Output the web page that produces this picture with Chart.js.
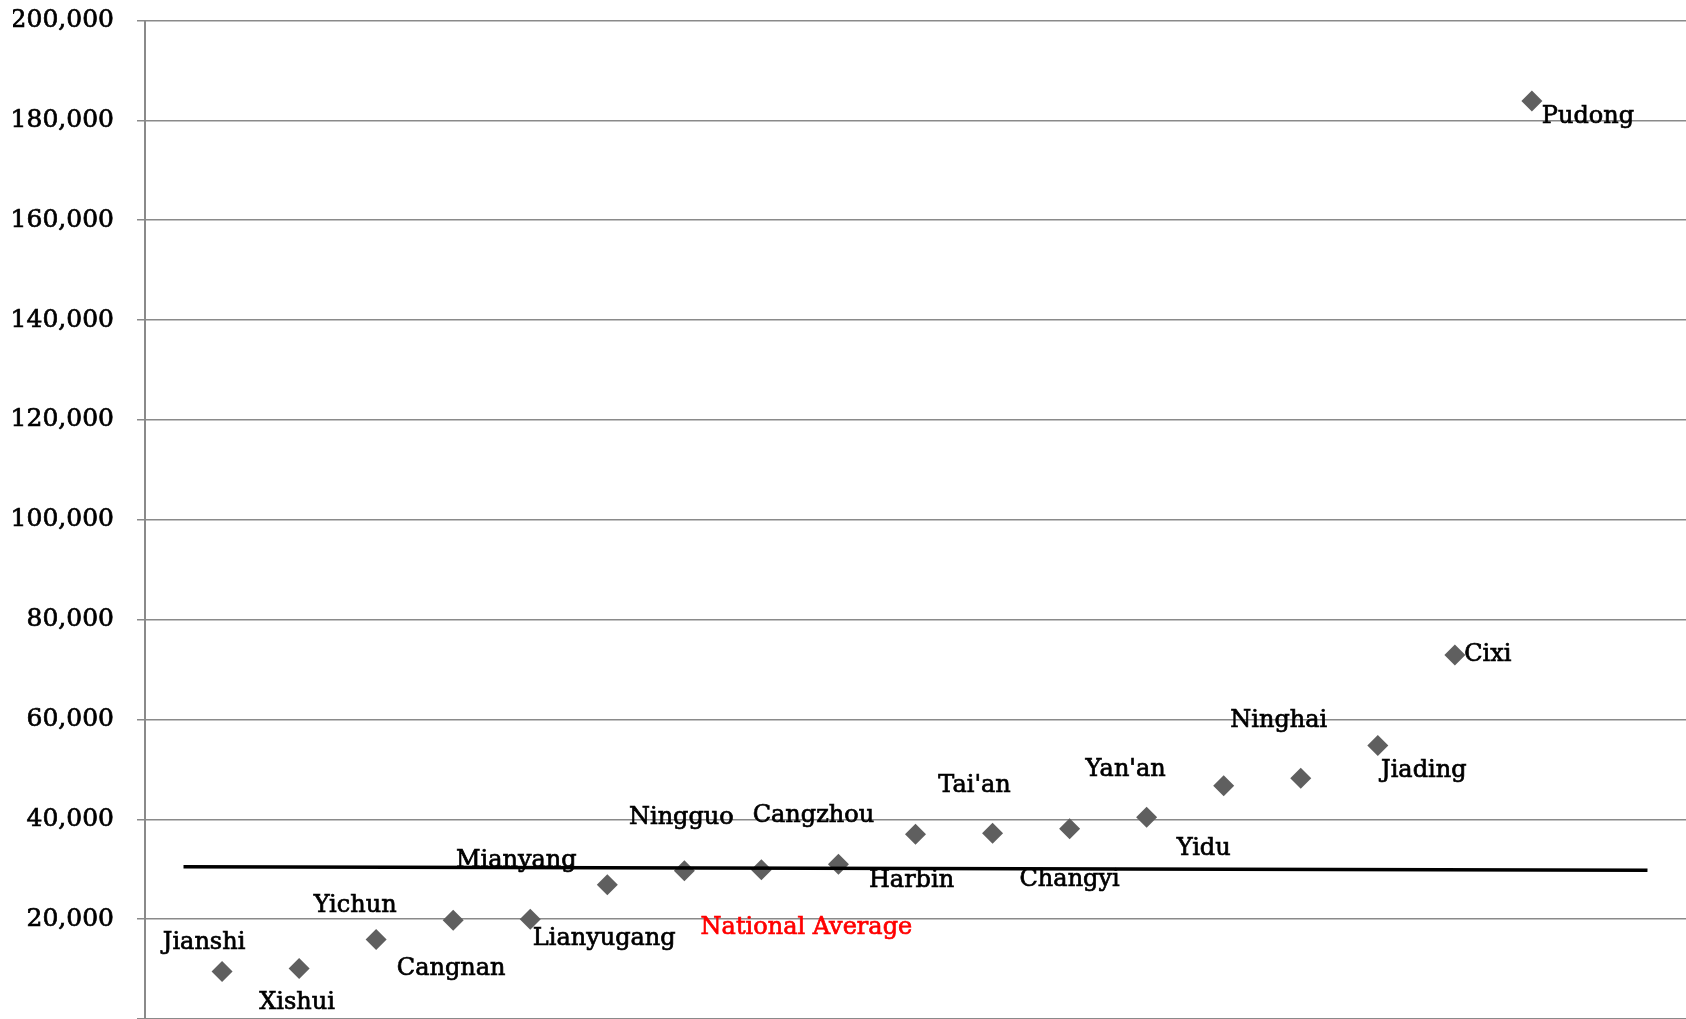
<!DOCTYPE html>
<html>
<head>
<meta charset="utf-8">
<script src="https://cdn.jsdelivr.net/npm/chart.js@4.4.0/dist/chart.umd.min.js"></script>
<style>
  html, body { margin: 0; padding: 0; background: #fff; overflow: hidden; }
  #wrap { position: absolute; left: 0; top: 0; width: 1686px; height: 1019px; }
</style>
</head>
<body>
<div id="wrap"><canvas id="myChart"></canvas></div>
<script>
// cities, sorted by value
let cities = ['Jianshi', 'Xishui', 'Yichun', 'Cangnan', 'Lianyugang', 'Mianyang', 'Ningguo',
  'National Average', 'Cangzhou', 'Harbin', "Tai'an", 'Changyi', "Yan'an", 'Yidu', 'Ninghai',
  'Jiading', 'Cixi', 'Pudong']
let values = [9500, 10100, 15900, 19800, 20000, 26900, 29700,
  29900, 31000, 37000, 37200, 38100, 40400, 46700, 48200,
  54800, 72900, 183900]
// the black national average line (start / end)
let avgLineX = [0.5, 19.5]
let avgLineY = [30500, 29800]
let yTicks = [0, 20000, 40000, 60000, 80000, 100000, 120000, 140000, 160000, 180000, 200000]

// where each label sits relative to its marker (px)
const labelOffsets = [
  [-18, -29], [-2, 34], [-21, -34], [-2, 49], [74, 20], [-91, -24], [-3, -53],
  [45, 58], [-25, -48], [-4, 46], [-18, -48], [0, 51], [-21, -48], [-20, 63], [-22, -58],
  [46, 25], [33, 0], [56, 16],
]

const serif = '"DejaVu Serif", "Liberation Serif", serif'

let points = cities.map((c, i) => ({ x: i + 1, y: values[i] }))
let avgLine = avgLineX.map((x, i) => ({ x: x, y: avgLineY[i] }))

const pointLabels = {
  id: 'pointLabels',
  afterDatasetsDraw(chart) {
    const ctx = chart.ctx
    const meta = chart.getDatasetMeta(1)
    ctx.save()
    ctx.font = '24px ' + serif
    ctx.textAlign = 'center'
    ctx.textBaseline = 'middle'
    ctx.lineWidth = 0.7
    meta.data.forEach((el, i) => {
      const col = cities[i] === 'National Average' ? '#ff0000' : '#000000'
      ctx.fillStyle = col
      ctx.strokeStyle = col
      const tx = el.x + labelOffsets[i][0]
      const ty = el.y + labelOffsets[i][1]
      ctx.fillText(cities[i], tx, ty)
      ctx.strokeText(cities[i], tx, ty)
    })
    ctx.restore()
  },
}

const config = {
  type: 'scatter',
  data: {
    datasets: [
      {
        type: 'line',
        data: avgLine,
        borderColor: '#000000',
        borderWidth: 3.5,
        pointRadius: 0,
        fill: false,
      },
      {
        data: points,
        pointStyle: 'rectRot',
        pointRadius: 10.5,
        pointHoverRadius: 10.5,
        backgroundColor: '#5f5f5f',
        borderColor: '#5f5f5f',
        borderWidth: 0,
      },
    ],
  },
  options: {
    responsive: true,
    maintainAspectRatio: false,
    animation: false,
    layout: { autoPadding: false, padding: { left: 13, top: 20.5, right: 0, bottom: 0 } },
    plugins: {
      legend: { display: false },
      tooltip: { enabled: false },
    },
    scales: {
      x: {
        type: 'linear',
        min: 0,
        max: 20,
        display: false,
      },
      y: {
        type: 'linear',
        min: 0,
        max: 200000,
        afterBuildTicks: (axis) => {
          axis.ticks = yTicks.map((v) => ({ value: v }))
        },
        afterFit: (axis) => {
          axis.width = 132
          axis.paddingTop = 0
          axis.paddingBottom = 0
        },
        border: { color: '#8a8a8a', width: 2 },
        grid: { color: '#8a8a8a', lineWidth: 1.5, tickLength: 8 },
        ticks: {
          padding: 23,
          color: '#000000',
          textStrokeColor: '#000000',
          textStrokeWidth: 0.7,
          font: { family: serif, size: 25 },
          callback: (v) => (v === 0 ? '' : v.toLocaleString('en-US')),
        },
      },
    },
  },
  plugins: [pointLabels],
}

var myChart = new Chart(document.getElementById('myChart'), config)
</script>
</body>
</html>
